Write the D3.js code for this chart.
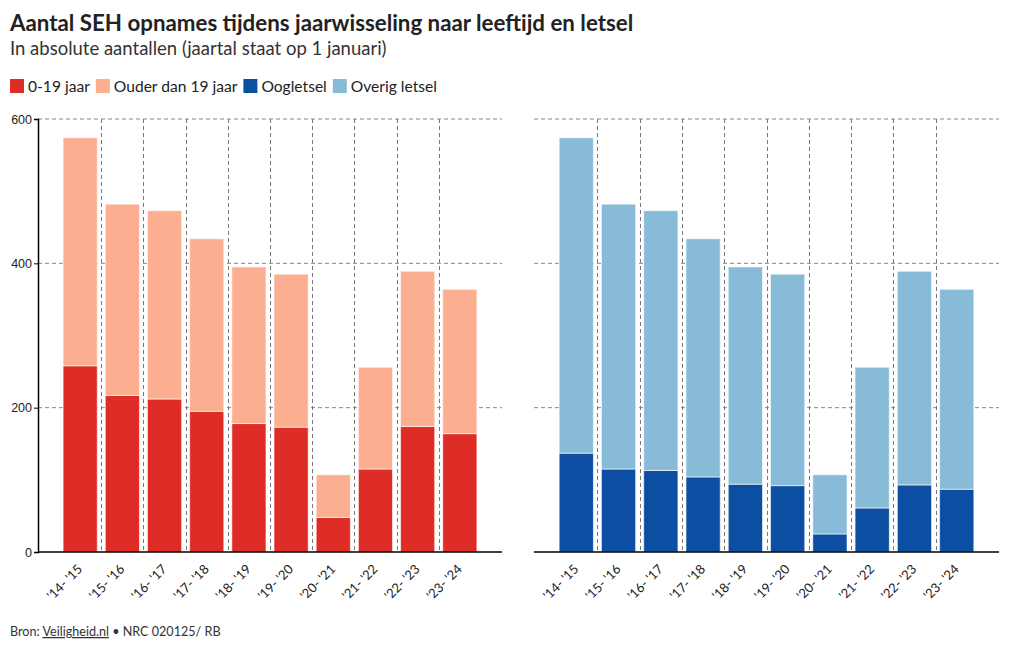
<!DOCTYPE html>
<html>
<head>
<meta charset="utf-8">
<script src="https://cdn.jsdelivr.net/npm/d3@7"></script>
<style>
  html, body { margin: 0; padding: 0; background: #fff; }
  svg { display: block; }
  text { font-family: Lato, "Open Sans", sans-serif; }
</style>
</head>
<body>
<svg id="chart" width="1020" height="650"></svg>
<script>
// ---- data ----
const seizoenen = ["'14- '15", "'15- '16", "'16- '17", "'17- '18", "'18- '19", "'19- '20", "'20- '21", "'21- '22", "'22- '23", "'23- '24"];
const jong   = [258, 217, 212, 195, 178, 173, 48, 115, 174, 164];   // 0-19 jaar
const ouder  = [316, 265, 261, 239, 217, 212, 59, 141, 215, 200];   // Ouder dan 19 jaar
const oog    = [137, 115, 113, 104, 94, 92, 25, 61, 93, 87];        // Oogletsel
const overig = [437, 367, 360, 330, 301, 293, 82, 195, 296, 277];   // Overig letsel
const yTicks = [0, 200, 400, 600];
const legendLabels = ["0-19 jaar", "Ouder dan 19 jaar", "Oogletsel", "Overig letsel"];
const colors = ["#de2d26", "#fcae91", "#0b4ea2", "#88bbd7"];

const svg = d3.select("#chart");

// titles
svg.append("text").attr("x", 10).attr("y", 31)
  .style("font-size", "22.3px").style("font-weight", "bold").attr("fill", "#222")
  .text("Aantal SEH opnames tijdens jaarwisseling naar leeftijd en letsel");
svg.append("text").attr("x", 10).attr("y", 55)
  .style("font-size", "18.5px").attr("fill", "#333")
  .text("In absolute aantallen (jaartal staat op 1 januari)");

// legend
let lx = 10;
legendLabels.forEach((lab, i) => {
  svg.append("rect").attr("x", lx).attr("y", 79).attr("width", 14).attr("height", 14).attr("fill", colors[i]);
  const t = svg.append("text").attr("x", lx + 18).attr("y", 92)
    .style("font-size", "15.6px").attr("fill", "#222").text(lab);
  lx += 18 + t.node().getComputedTextLength() + 6;
});

// scales
const y = d3.scaleLinear().domain([0, 600]).range([552, 119]);

function panel(x0, x1, lowVals, highVals, cLow, cHigh, showY) {
  const g = svg.append("g");
  const step = (x1 - x0) / (seizoenen.length + 1);
  const x = d3.scaleBand().domain(seizoenen)
    .range([x0 + step / 2, x1 - step / 2]).paddingInner(0.19).paddingOuter(0.095);

  // horizontal grid
  g.selectAll("line.h").data(yTicks.filter(d => d > 0)).join("line")
    .attr("x1", x0).attr("x2", x1)
    .attr("y1", d => y(d)).attr("y2", d => y(d))
    .attr("stroke", "#888").attr("stroke-dasharray", "4,3").attr("stroke-width", 1);

  // vertical dividers between bars
  const bounds = seizoenen.slice(1).map(s => x(s) - x.step() * x.paddingInner() / 2);
  g.selectAll("line.v").data(bounds).join("line")
    .attr("x1", d => Math.round(d) + 0.5).attr("x2", d => Math.round(d) + 0.5)
    .attr("y1", y(600)).attr("y2", y(0))
    .attr("stroke", "#777").attr("stroke-dasharray", "4,3").attr("stroke-width", 1);

  // stacked bars
  const data = seizoenen.map((s, i) => ({ s, low: lowVals[i], high: highVals[i] }));
  g.selectAll("rect.low").data(data).join("rect")
    .attr("x", d => x(d.s)).attr("width", x.bandwidth())
    .attr("y", d => y(d.low)).attr("height", d => y(0) - y(d.low))
    .attr("fill", cLow).attr("stroke", "rgba(255,255,255,0.6)").attr("stroke-width", 1);
  g.selectAll("rect.high").data(data).join("rect")
    .attr("x", d => x(d.s)).attr("width", x.bandwidth())
    .attr("y", d => y(d.low + d.high)).attr("height", d => y(d.low) - y(d.low + d.high))
    .attr("fill", cHigh).attr("stroke", "rgba(255,255,255,0.6)").attr("stroke-width", 1);

  // x axis
  const xa = g.append("g").attr("transform", `translate(0,${y(0)})`);
  xa.append("line").attr("x1", x0).attr("x2", x1).attr("y1", 0).attr("y2", 0)
    .attr("stroke", "#000").attr("stroke-width", 1.5);
  xa.selectAll("text").data(seizoenen).join("text")
    .attr("transform", d => `translate(${x(d) + x.bandwidth() / 2 + 3},${18}) rotate(-45)`)
    .attr("text-anchor", "end")
    .style("font-size", "13px").attr("fill", "#222")
    .text(d => d);

  if (showY) {
    const ya = g.append("g").attr("transform", `translate(${x0},0)`)
      .call(d3.axisLeft(y).tickValues(yTicks).tickSize(4).tickPadding(2));
    ya.select(".domain").attr("stroke", "#000").attr("stroke-width", 1.5);
    ya.selectAll(".tick line").attr("stroke", "#000");
    ya.selectAll(".tick text").style("font-family", "'Liberation Sans', Arial, sans-serif")
      .style("font-size", "12.5px").attr("fill", "#222");
  }
}

panel(38, 502, jong, ouder, colors[0], colors[1], true);
panel(534, 999, oog, overig, colors[2], colors[3], false);

// footer
const foot = svg.append("text").attr("x", 10).attr("y", 636)
  .style("font-size", "12.6px").attr("fill", "#333");
foot.append("tspan").text("Bron: ");
foot.append("tspan").style("text-decoration", "underline").text("Veiligheid.nl");
foot.append("tspan").text(" • NRC 020125/ RB");
</script>
</body>
</html>
